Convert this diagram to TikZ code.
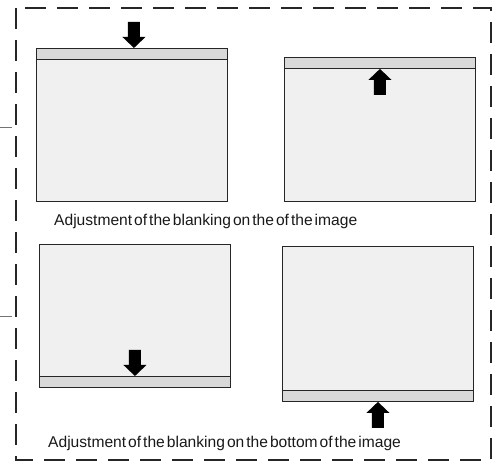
\documentclass[tikz,border=0pt]{standalone}
\usepackage{fontspec}
\setmainfont{Liberation Sans}
\usepackage{xcolor}
\usepackage{tikz}
\usetikzlibrary{positioning, calc}
\definecolor{scrfill}{HTML}{F0F0F0}
\definecolor{bandfill}{HTML}{D9D9D9}
\newcommand\capfont{\fontsize{15.6}{18}\selectfont\spaceskip=2pt\relax}
\tikzset{
  screen/.style={rectangle, draw=black!85, fill=scrfill, line width=0.9pt,
                 minimum width=191pt, minimum height=153pt, inner sep=0pt, anchor=north west},
  band/.style={rectangle, draw=black!85, fill=bandfill, line width=0.9pt,
               minimum width=191pt, minimum height=11pt, inner sep=0pt},
  frm/.style={draw=black!85, line width=2pt, dash pattern=on 21pt off 11pt},
  tck/.style={draw=black!55, line width=0.8pt},
  captxt/.style={font=\capfont, inner sep=0pt, anchor=west, text=black!90},
  blkarrow/.pic={\fill[black] (0,0) -- (-11.5,-11) -- (-6,-11) -- (-6,-26)
                   -- (6,-26) -- (6,-11) -- (11.5,-11) -- cycle;}
}
\begin{document}
\begin{tikzpicture}[x=1pt, y=-1pt]
\useasboundingbox (0,0) rectangle (496,465);
\draw[frm] (16,8) rectangle (491,460);
\draw[tck] (0,127) -- (12,127);
\draw[tck] (0,316) -- (12,316);

\node[screen] (s1) at (36,48) {};
\node[band, anchor=north] (b1) at (s1.north) {};
\pic at ($(b1.north)+(2,0)$) {blkarrow};

\node[screen, minimum height=144pt] (s2) at (284,57) {};
\node[band, anchor=north] (b2) at (s2.north) {};
\pic[rotate=180] at (b2.south) {blkarrow};

\node[captxt] (t1) at (54,221) {Adjustment of the blanking on the of the image};

\node[screen, minimum height=143pt] (s3) at (39,244) {};
\node[band, anchor=south] (b3) at (s3.south) {};
\pic at (b3.north) {blkarrow};

\node[screen, minimum height=155pt] (s4) at (282,246) {};
\node[band, anchor=south] (b4) at (s4.south) {};
\pic[rotate=180] at (b4.south) {blkarrow};

\node[captxt] (t2) at (48,443) {Adjustment of the blanking on the bottom of the image};
\end{tikzpicture}
\end{document}
